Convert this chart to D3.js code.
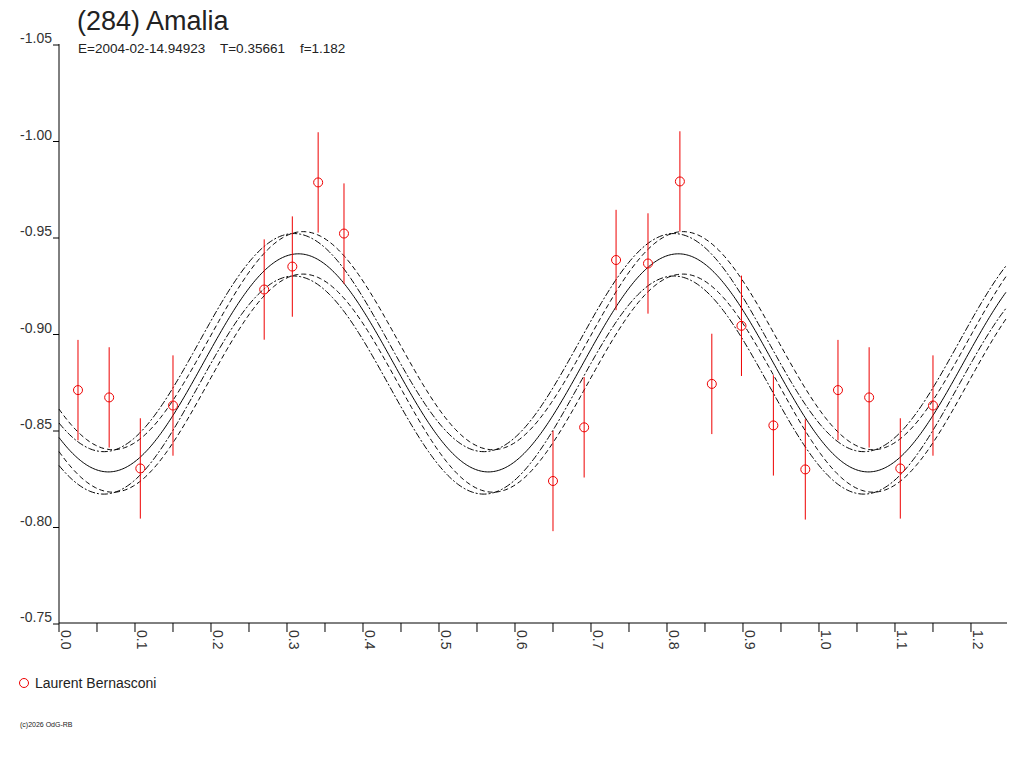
<!DOCTYPE html><html><head><script src="https://cdn.jsdelivr.net/npm/d3@7"></script>
<style>body{margin:0;background:#fff}text{font-family:"Liberation Sans",Arial,sans-serif;white-space:pre}</style></head><body>
<svg id="c" width="1024" height="768"></svg>
<script>
const phase=[0.025,0.066,0.107,0.150,0.270,0.307,0.341,0.375,0.650,0.691,0.733,0.775,0.817,0.859,0.898,0.940,0.982];
const mag=[-0.8712,-0.8674,-0.8306,-0.8632,-0.9233,-0.9352,-0.9788,-0.9523,-0.8241,-0.8519,-0.9386,-0.9368,-0.9793,-0.8744,-0.9045,-0.8529,-0.8301];
const err=[0.026,0.026,0.026,0.026,0.026,0.026,0.026,0.026,0.026,0.026,0.026,0.026,0.026,0.026,0.026,0.026,0.026];
const fitMean=-0.8853, fitAmp=0.0565, fitPeak=0.315;
const envOffset=[0.0115,0.0105,-0.0105,-0.0115], envShift=[0.006,-0.006,0.006,-0.006], envDash=["5,3","7,2,2,2","5,3","7,2,2,2"];
const yTicks=[-1.05,-1.00,-0.95,-0.90,-0.85,-0.80,-0.75];
const xLabels=[0,0.1,0.2,0.3,0.4,0.5,0.6,0.7,0.8,0.9,1.0,1.1,1.2];
const svg=d3.select("#c");
const x=d3.scaleLinear().domain([0,1.2474]).range([59,1007]);
const y=d3.scaleLinear().domain([-1.05,-0.75]).range([45,624]);
const fit=(p,s)=>fitMean-fitAmp*Math.cos(4*Math.PI*(p-fitPeak-s));
svg.append("line").attr("x1",59).attr("x2",59).attr("y1",44).attr("y2",623).attr("stroke","#000");
svg.append("line").attr("x1",59).attr("x2",1007).attr("y1",623).attr("y2",623).attr("stroke","#000");
yTicks.forEach(t=>{svg.append("line").attr("x1",53).attr("x2",59).attr("y1",y(t)).attr("y2",y(t)).attr("stroke","#000");
 svg.append("text").attr("x",52).attr("y",y(t)-2).attr("text-anchor","end").attr("font-size",14).attr("fill","#333").text(t.toFixed(2));});
d3.range(0,25).forEach(i=>{const v=i*0.05;svg.append("line").attr("x1",x(v)).attr("x2",x(v)).attr("y1",623).attr("y2",632).attr("stroke","#000");});
xLabels.forEach(t=>svg.append("text").attr("transform",`translate(${x(t)+2},630) rotate(90)`).attr("font-size",14).attr("fill","#333").text(t.toFixed(1)));
const ps=d3.range(0,1.2474,0.002);
const line=s=>d3.line().x(p=>x(p)).y(p=>y(fit(p,s)));
svg.append("path").attr("d",line(0)(ps)).attr("fill","none").attr("stroke","#000").attr("stroke-width",1);
envOffset.forEach((o,i)=>{svg.append("path").attr("d",d3.line().x(p=>x(p)).y(p=>y(fit(p,envShift[i])-o))(ps))
 .attr("fill","none").attr("stroke","#000").attr("stroke-dasharray",envDash[i]);});
const pts=[];phase.forEach((p,i)=>{pts.push([p,mag[i],err[i]]);if(p+1<1.2474)pts.push([p+1,mag[i],err[i]]);});
pts.forEach(d=>{svg.append("line").attr("x1",x(d[0])).attr("x2",x(d[0])).attr("y1",y(d[1]-d[2])).attr("y2",y(d[1]+d[2])).attr("stroke","#e00");
 svg.append("circle").attr("cx",x(d[0])).attr("cy",y(d[1])).attr("r",4.5).attr("fill","none").attr("stroke","#e00");});
svg.append("text").attr("x",77).attr("y",30).attr("font-size",27).attr("fill","#222").text("(284) Amalia");
svg.append("text").attr("x",78).attr("y",53).attr("font-size",13.5).attr("fill","#222").text("E=2004-02-14.94923    T=0.35661    f=1.182");
svg.append("circle").attr("cx",24).attr("cy",683).attr("r",4.5).attr("fill","none").attr("stroke","#e00");
svg.append("text").attr("x",35).attr("y",688).attr("font-size",14).attr("fill","#222").text("Laurent Bernasconi");
svg.append("text").attr("x",20).attr("y",727).attr("font-size",7).attr("fill","#222").text("(c)2026 OdG-RB");
</script></body></html>
